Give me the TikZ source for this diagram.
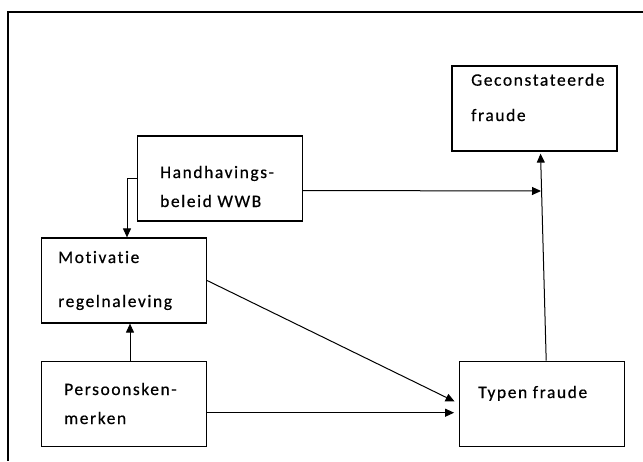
\documentclass[tikz,border=0pt]{standalone}
\usepackage{fontspec}
\newfontfamily\lblfont[LetterSpace=9,Ligatures=NoCommon,FakeBold=0.5]{Carlito}
\usepackage{tikz}
\usetikzlibrary{arrows.meta,positioning}

\begin{document}
\begin{tikzpicture}[
  x=1pt, y=-1pt,
  box/.style={draw, rectangle, line width=1.2pt,
              minimum width=165pt, minimum height=85pt, inner sep=0pt},
  lbl/.style={anchor=base west, inner sep=0pt,
              font=\lblfont\fontsize{17.5}{20}\selectfont},
  link/.style={line width=1pt, -{Triangle[length=9pt,width=8pt]}}
]
\useasboundingbox (0,0) rectangle (643,461);
% outer frame (only top and left side visible)
\draw[line width=2pt] (643,12) -- (7.5,12) -- (7.5,461);

% boxes
\node[box] (motiv) at (124,280.5) {};
\node[box, below=37pt of motiv] (pers) {};
\node[box, right=252pt of pers] (typen) {};
\node[box] (hand)  at (220,178.5) {};
\node[box] (gecon) at (534.5,108.5) {};

% texts
\node[lbl] (geconA) at (471,85.7) {Geconstateerde};
\node[lbl] (geconB) at (471,121)  {fraude};
\node[lbl] (handA)  at (160,178)  {Handhavings-};
\node[lbl] (handB)  at (160,207)  {beleid WWB};
\node[lbl] (motivA) at (58,263)   {Motivatie};
\node[lbl] (motivB) at (58,307)   {regelnaleving};
\node[lbl] (persA)  at (64,395)   {Persoonsken-};
\node[lbl] (persB)  at (64,424)   {merken};
\node[lbl] (typenA) at (478,398)  {Typen fraude};

\coordinate (meet) at (541,191);

% connectors
\draw[link] (hand.west) -| ([xshift=3pt]motiv.north);
\draw[link] ([yshift=-12pt]hand.east) -- (meet);
\draw[link, shorten >=2pt] ([xshift=4pt]typen.north) -- ([xshift=6pt]gecon.south);
\draw[link] ([xshift=6pt]pers.north) -- ([xshift=6pt]motiv.south);
\draw[link, shorten >=5pt] (motiv.east) -- (typen.west);
\draw[link, shorten >=5pt] ([yshift=-9pt]pers.east) -- ([yshift=-9pt]typen.west);
\end{tikzpicture}
\end{document}
